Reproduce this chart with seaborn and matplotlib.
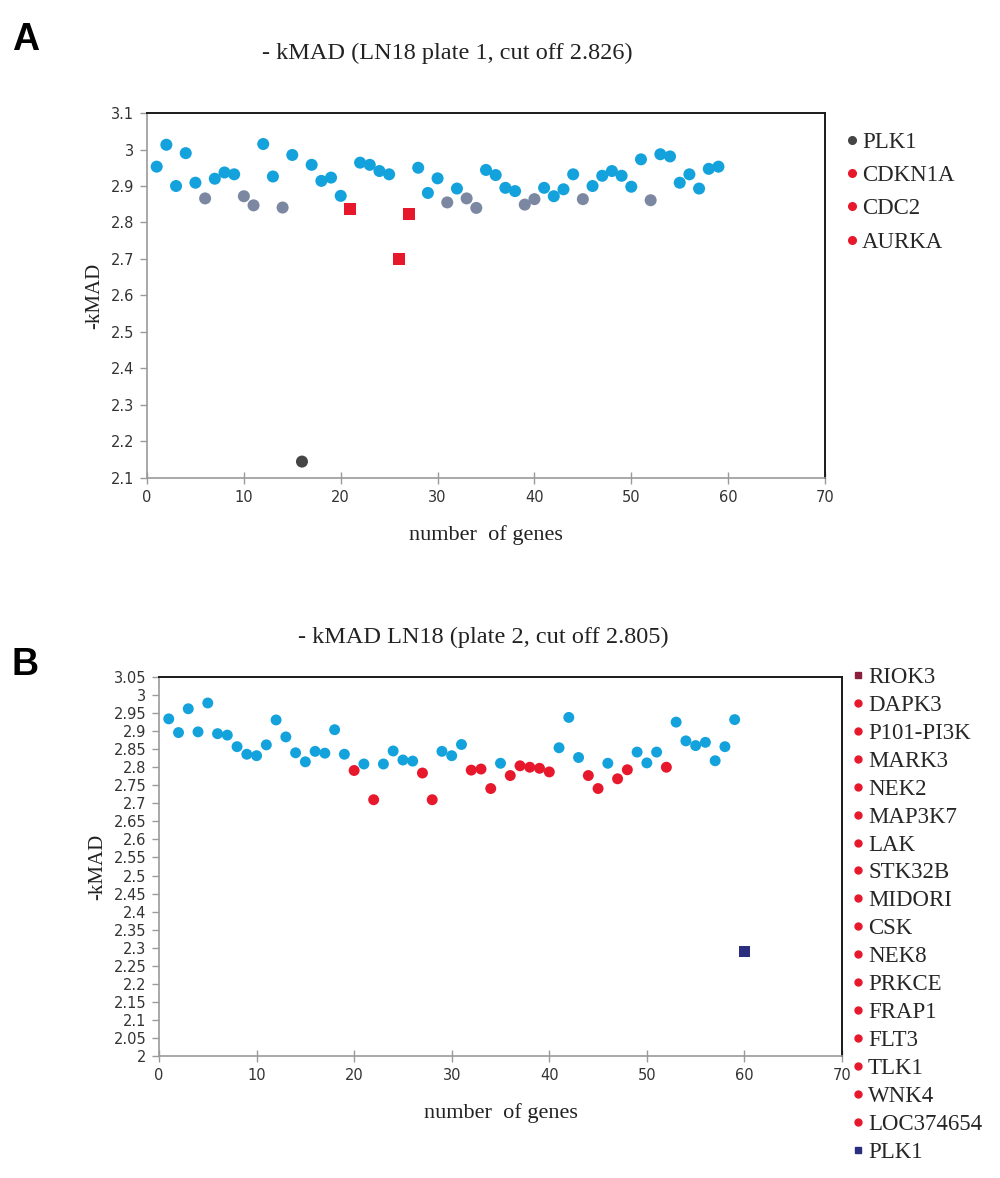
import matplotlib
matplotlib.use('Agg')
import matplotlib.pyplot as plt
import seaborn as sns
import pandas as pd
from matplotlib.lines import Line2D
from matplotlib.ticker import FuncFormatter, MultipleLocator

sns.set_theme(style='white')
plt.rcParams['font.family'] = ['DejaVu Sans']

# ---------------- Panel A data ----------------
a_title = "- kMAD (LN18 plate 1, cut off 2.826)"
a_x = list(range(1, 60))
a_y = [2.953, 3.013, 2.900, 2.990, 2.909, 2.866, 2.920, 2.937, 2.932, 2.872,
       2.847, 3.015, 2.926, 2.841, 2.985, 2.145, 2.958, 2.914, 2.923, 2.873,
       2.836, 2.964, 2.958, 2.941, 2.932, 2.700, 2.822, 2.950, 2.881, 2.921,
       2.855, 2.893, 2.866, 2.840, 2.944, 2.930, 2.895, 2.886, 2.849, 2.864,
       2.895, 2.872, 2.891, 2.932, 2.864, 2.900, 2.928, 2.941, 2.928, 2.898,
       2.973, 2.861, 2.987, 2.981, 2.909, 2.932, 2.893, 2.947, 2.953]
a_group = ['other'] * 59
for i in [6, 10, 11, 14, 31, 33, 34, 39, 40, 45, 52]:
    a_group[i - 1] = 'grey'
a_hits = {16: 'PLK1', 21: 'CDKN1A', 26: 'CDC2', 27: 'AURKA'}
for k, v in a_hits.items():
    a_group[k - 1] = v
a_legend = ['PLK1', 'CDKN1A', 'CDC2', 'AURKA']
a_ticks_y = [2.1 + 0.1 * i for i in range(11)]

# ---------------- Panel B data ----------------
b_title = "- kMAD LN18 (plate 2, cut off 2.805)"
b_x = list(range(1, 61))
b_y = [2.934, 2.896, 2.962, 2.898, 2.978, 2.893, 2.889, 2.857, 2.836, 2.832,
       2.862, 2.931, 2.884, 2.840, 2.815, 2.844, 2.839, 2.904, 2.836, 2.791,
       2.809, 2.710, 2.809, 2.845, 2.820, 2.817, 2.784, 2.710, 2.844, 2.832,
       2.863, 2.792, 2.795, 2.741, 2.811, 2.777, 2.804, 2.800, 2.797, 2.787,
       2.854, 2.938, 2.827, 2.777, 2.741, 2.811, 2.768, 2.793, 2.842, 2.812,
       2.842, 2.800, 2.925, 2.873, 2.860, 2.869, 2.818, 2.857, 2.932, 2.290]
b_legend = ['RIOK3', 'DAPK3', 'P101-PI3K', 'MARK3', 'NEK2', 'MAP3K7', 'LAK',
            'STK32B', 'MIDORI', 'CSK', 'NEK8', 'PRKCE', 'FRAP1', 'FLT3', 'TLK1',
            'WNK4', 'LOC374654', 'PLK1']
b_hit_x = [20, 22, 27, 28, 32, 33, 34, 36, 37, 38, 39, 40, 44, 45, 47, 48, 52, 60]
b_group = ['other'] * 60
for gx, gname in zip(b_hit_x, b_legend):
    b_group[gx - 1] = gname
b_ticks_y = [2.0 + 0.05 * i for i in range(22)]

BLUE = '#14a2dd'
GREY = '#7c88a2'
RED = '#e8182c'
DARK = '#454545'
NAVY = '#2b2d7e'

dfA = pd.DataFrame({'x': a_x, 'y': a_y, 'g': a_group})
dfB = pd.DataFrame({'x': b_x, 'y': b_y, 'g': b_group})

W, H = 1000, 1178
fig = plt.figure(figsize=(W / 100, H / 100), dpi=100)
fig.patch.set_facecolor('white')

axA = fig.add_axes([147 / W, 1 - 478 / H, 678 / W, 365 / H])
axB = fig.add_axes([159 / W, 1 - 1056 / H, 683 / W, 379 / H])

serif = ['Liberation Serif', 'DejaVu Serif']


def style_axes(ax, ylo, yhi, yticks):
    ax.set_xlim(0, 70)
    ax.set_ylim(ylo, yhi)
    ax.xaxis.set_major_locator(MultipleLocator(10))
    ax.set_yticks(yticks)
    ax.yaxis.set_major_formatter(FuncFormatter(lambda v, p: f"{round(v, 2):g}"))
    ax.xaxis.set_major_formatter(FuncFormatter(lambda v, p: f"{v:g}"))
    ax.set_facecolor('white')
    for s in ['top', 'right']:
        ax.spines[s].set_color('#1a1a1a')
        ax.spines[s].set_linewidth(1.4)
    for s in ['left', 'bottom']:
        ax.spines[s].set_color('#9a9a9a')
        ax.spines[s].set_linewidth(1.2)
    ax.tick_params(axis='y', direction='out', length=5, width=1, color='#9a9a9a',
                   labelsize=10.5, labelcolor='#333333', left=True, pad=4)
    ax.tick_params(axis='x', direction='inout', length=8, width=1, color='#9a9a9a',
                   labelsize=10.5, labelcolor='#333333', bottom=True, pad=5)
    ax.grid(False)
    ax.set_xlabel('number  of genes', family=serif, fontsize=16, color='#222222', labelpad=14)
    ax.set_ylabel('-kMAD', family=serif, fontsize=15, color='#222222', labelpad=5)


# ---- Panel A ----
palA = {'other': BLUE, 'grey': GREY, 'PLK1': DARK, 'CDKN1A': RED, 'CDC2': RED, 'AURKA': RED}
markA = {'other': 'o', 'grey': 'o', 'PLK1': 'o', 'CDKN1A': 's', 'CDC2': 's', 'AURKA': 's'}
sns.scatterplot(data=dfA, x='x', y='y', hue='g', style='g', palette=palA, markers=markA,
                s=75, linewidth=0, legend=False, ax=axA)
style_axes(axA, 2.1, 3.1, a_ticks_y)

hA = [Line2D([], [], marker='o', ls='', color=palA[g], markersize=5.5) for g in a_legend]
legA = fig.legend(hA, a_legend, loc='upper left', bbox_to_anchor=(830 / W, 1 - 116 / H),
                  frameon=False, handlelength=0.5, handletextpad=0.2, labelspacing=0.53,
                  borderpad=0.2, prop={'family': serif, 'size': 16.5})

# ---- Panel B ----
palB = {'other': BLUE}
for gname in b_legend:
    palB[gname] = RED
palB['PLK1'] = NAVY
markB = {k: 'o' for k in palB}
markB['PLK1'] = 's'
sns.scatterplot(data=dfB, x='x', y='y', hue='g', style='g', palette=palB, markers=markB,
                s=62, linewidth=0, legend=False, ax=axB)
style_axes(axB, 2.0, 3.05, b_ticks_y)

legB_colors = [('#8a1f3c' if g == 'RIOK3' else palB[g]) for g in b_legend]
hB = [Line2D([], [], marker='s' if g in ('RIOK3', 'PLK1') else 'o', ls='', color=c, markersize=5)
      for g, c in zip(b_legend, legB_colors)]
legB = fig.legend(hB, b_legend, loc='upper left', bbox_to_anchor=(836 / W, 1 - 651 / H),
                  frameon=False, handlelength=0.5, handletextpad=0.2, labelspacing=0.30,
                  borderpad=0.2, prop={'family': serif, 'size': 16.5})

# ---- titles & panel letters ----
fig.text(447 / W, 1 - 53 / H, a_title, ha='center', va='center', family=serif,
         fontsize=17.5, color='#222222')
fig.text(483 / W, 1 - 637 / H, b_title, ha='center', va='center', family=serif,
         fontsize=17.5, color='#222222')
fig.text(12 / W, 1 - 40 / H, 'A', ha='left', va='center', fontsize=27, fontweight='bold',
         family=['Liberation Sans', 'DejaVu Sans'], color='black')
fig.text(12 / W, 1 - 665 / H, 'B', ha='left', va='center', fontsize=27, fontweight='bold',
         family=['Liberation Sans', 'DejaVu Sans'], color='black')

fig.savefig('out.png', dpi=100, facecolor='white')
